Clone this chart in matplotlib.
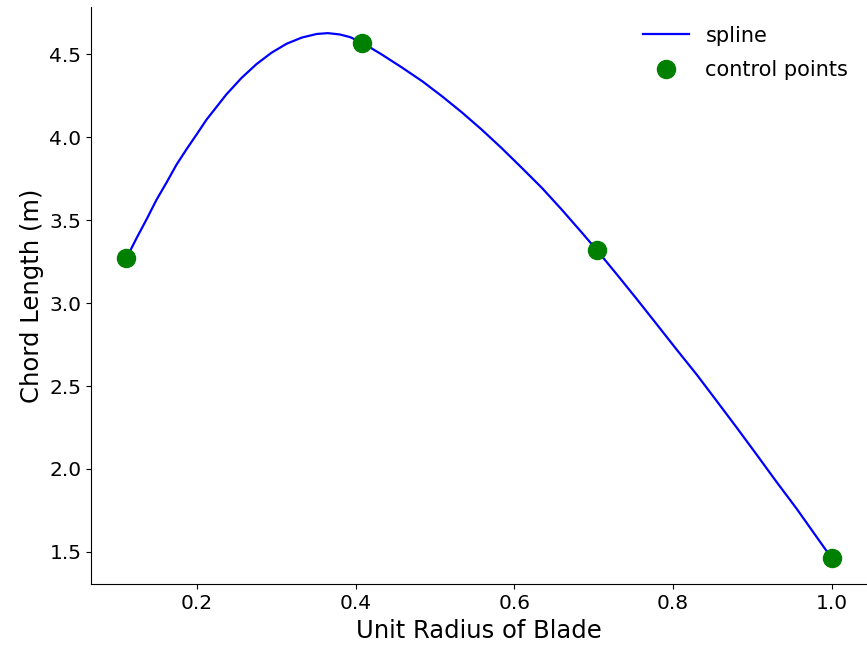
import matplotlib
matplotlib.use("Agg")
import matplotlib.pyplot as plt

# control points of the blade chord distribution
ctrl_r = [0.111, 0.408, 0.704, 1.0]
ctrl_chord = [3.269, 4.570, 3.319, 1.462]

# spline curve
spline_r = [0.111, 0.124, 0.137, 0.149, 0.162, 0.174, 0.187, 0.200, 0.212,
            0.225, 0.237, 0.256, 0.275, 0.294, 0.313, 0.332, 0.351, 0.365,
            0.380, 0.393, 0.408, 0.433, 0.458, 0.484, 0.509, 0.534, 0.559,
            0.584, 0.609, 0.635, 0.660, 0.685, 0.704, 0.729, 0.754, 0.779,
            0.804, 0.830, 0.855, 0.880, 0.905, 0.930, 0.956, 0.981, 1.000]
spline_chord = [3.269, 3.392, 3.509, 3.622, 3.729, 3.832, 3.928, 4.019, 4.105,
                4.184, 4.257, 4.356, 4.440, 4.509, 4.563, 4.600, 4.622, 4.627,
                4.619, 4.603, 4.570, 4.498, 4.421, 4.337, 4.246, 4.149, 4.045,
                3.934, 3.817, 3.693, 3.562, 3.425, 3.319, 3.174, 3.026, 2.875,
                2.723, 2.568, 2.410, 2.251, 2.089, 1.925, 1.759, 1.590, 1.462]

fig = plt.figure(figsize=(8.67, 6.49), dpi=100)
ax = fig.add_axes([0.105, 0.0994, 0.895, 0.890])

ax.plot(spline_r, spline_chord, color="blue", linewidth=1.6, label="spline")
ax.plot(ctrl_r, ctrl_chord, "o", color="green", markersize=13,
        label="control points")

ax.set_xlabel("Unit Radius of Blade", fontsize=17.5)
ax.set_ylabel("Chord Length (m)", fontsize=17.5)
ax.tick_params(labelsize=14.5)
ax.spines["top"].set_visible(False)
ax.spines["right"].set_visible(False)

ax.legend(loc="upper right", frameon=False, fontsize=15,
          handlelength=2.2, labelspacing=0.7)

fig.savefig("out.png", dpi=100)
